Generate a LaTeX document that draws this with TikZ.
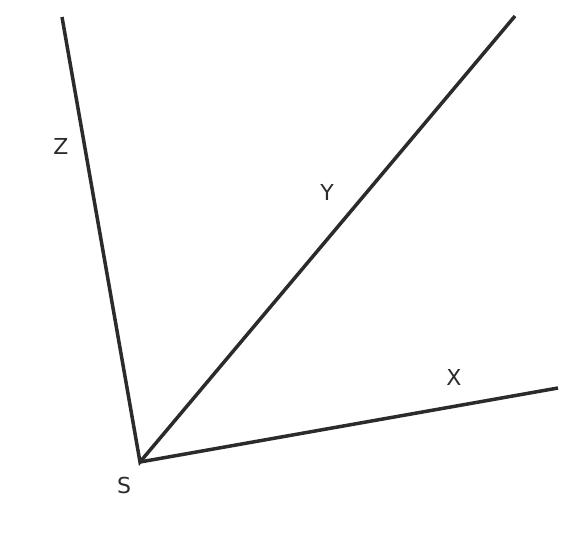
\documentclass[tikz,border=0pt]{standalone}
\usepackage{fontspec}
\setmainfont{DejaVu Sans}
\usetikzlibrary{calc}
\definecolor{linegray}{HTML}{2B2B2B}

\begin{document}
\begin{tikzpicture}[x=1pt, y=-1pt]
\useasboundingbox (0,0) rectangle (576,534);
\tikzset{ray/.style={linegray, line width=3.5pt}, lbl/.style={text=linegray, font=\fontsize{22}{26}\selectfont, inner sep=0}}
\coordinate (S) at (140,462);
\coordinate (Zend) at (62,17);
\coordinate (Yend) at (515,16);
\coordinate (Xend) at (558,388);
\draw[ray] (Zend)--(S)--(Yend);
\draw[ray] (S)--(Xend);
\node[lbl] (labS) at (124,485) {S};
\node[lbl] (labZ) at (61,146) {Z};
\node[lbl] (labY) at (327,192) {Y};
\node[lbl] (labX) at (454,377) {X};
\end{tikzpicture}
\end{document}
